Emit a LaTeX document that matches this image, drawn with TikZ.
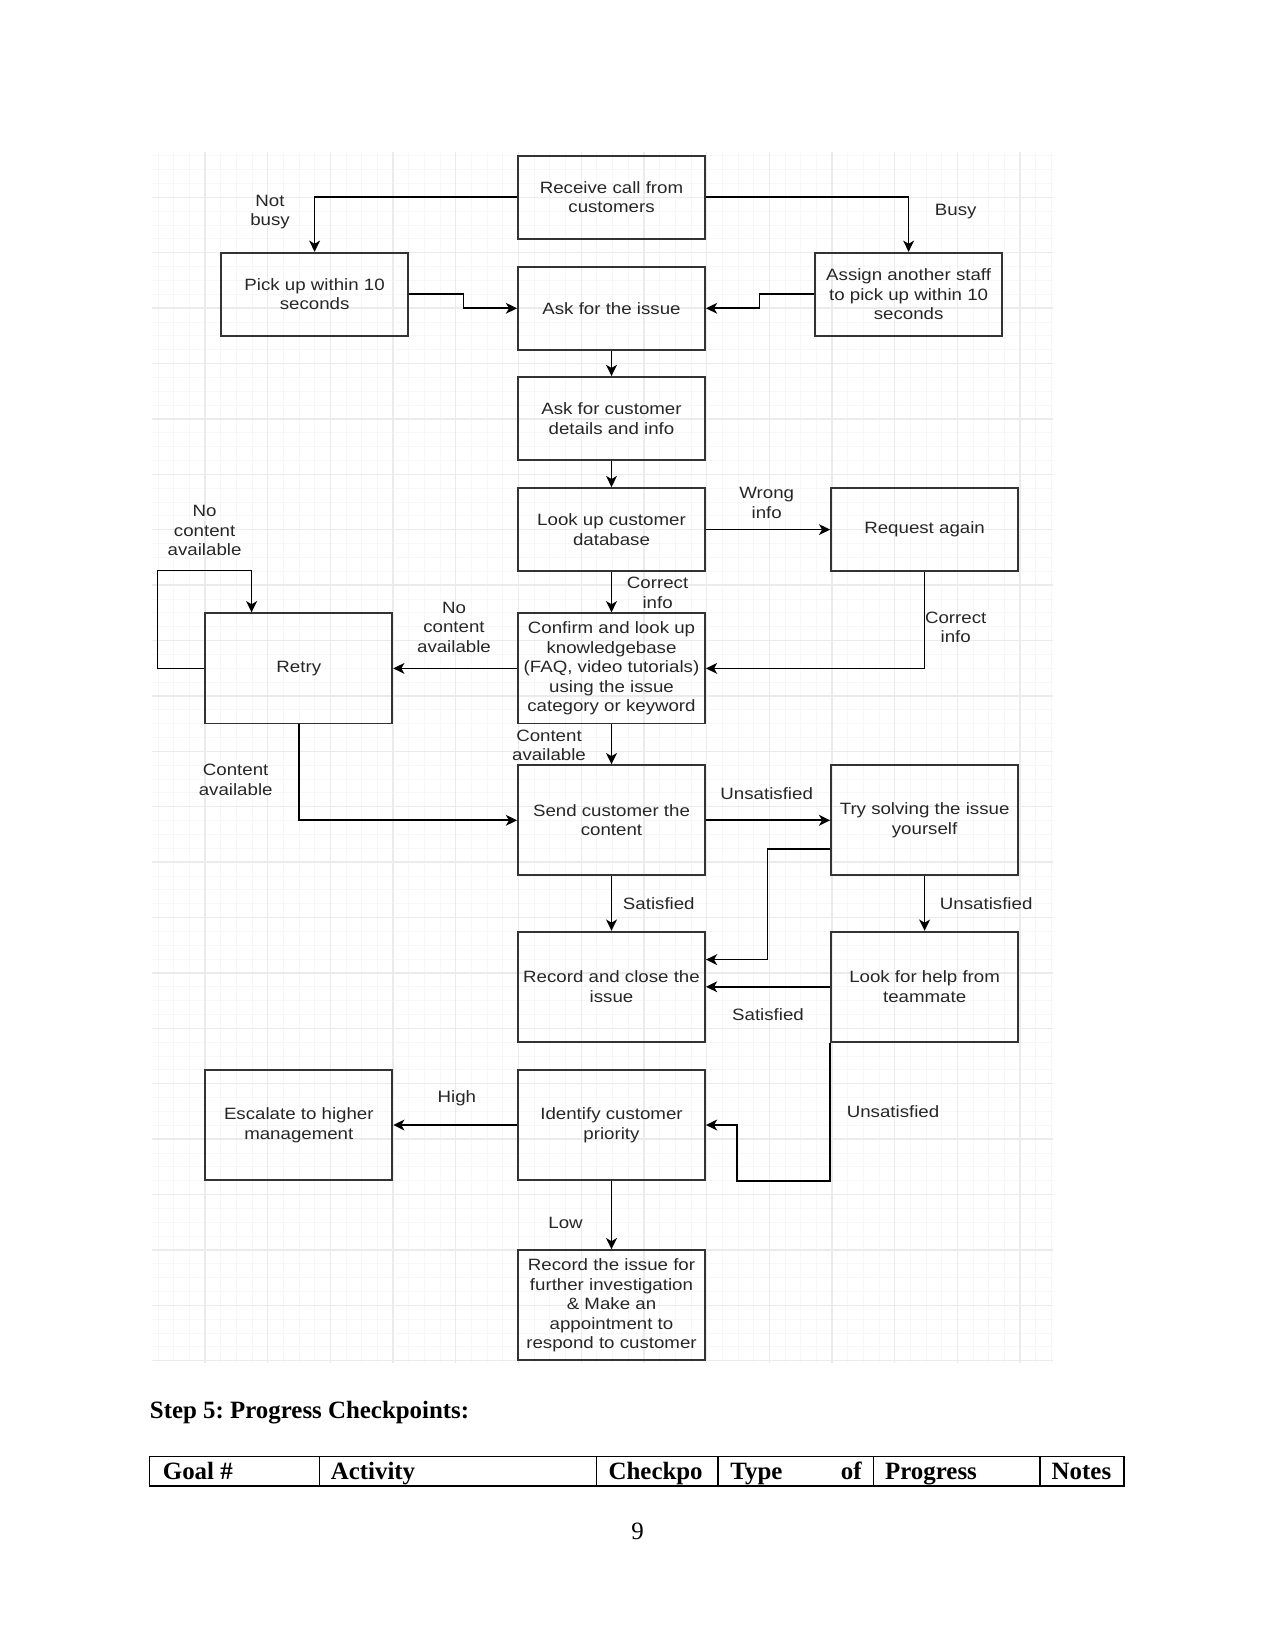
\documentclass[tikz,border=0pt]{standalone}
\usepackage{fontspec}
\setmainfont{Liberation Serif}
\newfontfamily\diofont[FakeStretch=1.14]{Liberation Sans}
\usepackage{xcolor}
\usetikzlibrary{arrows.meta, calc}
\definecolor{boxline}{HTML}{333333}
\definecolor{txtdark}{HTML}{262626}
\definecolor{gridmaj}{HTML}{EBEBEB}
\definecolor{gridmin}{HTML}{F7F7F7}
\frenchspacing

\begin{document}
\begin{tikzpicture}[x=0.016933cm, y=-0.016933cm,
    box/.style={draw=boxline, line width=0.9pt, minimum width=90.1pt, minimum height=40pt,
      inner sep=1pt, align=center, text=txtdark, font=\diofont\fontsize{7.9}{9.4}\selectfont},
    tallbox/.style={box, minimum height=53.1pt},
    lbl/.style={align=center, inner sep=0pt, text=txtdark, font=\diofont\fontsize{7.9}{9.4}\selectfont},
    arr/.style={-{Stealth[length=5.4pt,width=5.2pt,inset=1.5pt]}, line width=0.8pt},
    thead/.style={inner sep=0pt, font=\bfseries\fontsize{12}{14}\selectfont}]
  \useasboundingbox (0,0) rectangle (1275,1651);
  % Raster
  \foreach \k in {-3,...,54}{
    \draw[gridmin, line width=0.4pt] ({205+15.675*\k},152) -- ({205+15.675*\k},1363);
  }
  \foreach \k in {-3,...,84}{
    \draw[gridmin, line width=0.4pt] (152,{197.3+13.85*\k}) -- (1053,{197.3+13.85*\k});
  }
  \foreach \k in {0,...,13}{
    \draw[gridmaj, line width=0.6pt] ({205+62.7*\k},152) -- ({205+62.7*\k},1363);
  }
  \foreach \k in {0,...,21}{
    \draw[gridmaj, line width=0.6pt] (152,{197.3+55.4*\k}) -- (1053,{197.3+55.4*\k});
  }
  % Kaesten
  \node[box] (recv) at (611.5,197.3) {Receive call from\\customers};
  \node[box] (pick) at (314.6,294.3) {Pick up within 10\\seconds};
  \node[box] (assign) at (908.6,294.3) {Assign another staff\\to pick up within 10\\seconds};
  \node[box] (issue) at (611.5,308.3) {Ask for the issue};
  \node[box] (details) at (611.5,418.5) {Ask for customer\\details and info};
  \node[box] (lookup) at (611.5,529.6) {Look up customer\\database};
  \node[box] (request) at (924.6,529.6) {Request again};
  \node[tallbox] (retry) at (298.8,668.4) {Retry};
  \node[tallbox] (confirm) at (611.5,668.4) {Confirm and look up\\knowledgebase\\(FAQ, video tutorials)\\using the issue\\category or keyword};
  \node[tallbox] (send) at (611.5,820.3) {Send customer the\\content};
  \node[tallbox] (trysolve) at (924.6,820.3) {Try solving the issue\\yourself};
  \node[tallbox] (closeit) at (611.5,986.8) {Record and close the\\issue};
  \node[tallbox] (helpmate) at (924.6,986.8) {Look for help from\\teammate};
  \node[tallbox] (escalate) at (298.8,1125) {Escalate to higher\\management};
  \node[tallbox] (priority) at (611.5,1125) {Identify customer\\priority};
  \node[tallbox] (recordissue) at (611.5,1305.3) {Record the issue for\\further investigation\\\& Make an\\appointment to\\respond to customer};
  % Pfeile
  \draw[arr] (recv.west) -| (pick.north);
  \draw[arr] (recv.east) -| (assign.north);
  \draw[arr] (pick.east) -- ++(54.5,0) |- (issue.west);
  \draw[arr] (assign.west) -- ++(-54.7,0) |- (issue.east);
  \draw[arr] (issue.south) -- (details.north);
  \draw[arr] (details.south) -- (lookup.north);
  \draw[arr] (lookup.east) -- (request.west);
  \draw[arr] (lookup.south) -- (confirm.north);
  \draw[arr] (request.south) |- (confirm.east);
  \draw[arr] (confirm.west) -- (retry.east);
  \coordinate (loopin) at ($(retry.north west)!0.25!(retry.north east)$);
  \draw[arr] (retry.west) -- ++(-47,0) |- ($(loopin)+(0,-41.9)$) -- (loopin);
  \draw[arr] (retry.south) |- (send.west);
  \draw[arr] (confirm.south) -- (send.north);
  \draw[arr] (send.east) -- (trysolve.west);
  \draw[arr] ($(trysolve.west)+(0,28.5)$) -- ++(-62.7,0) |- ($(closeit.east)+(0,-27.2)$);
  \draw[arr] (send.south) -- (closeit.north);
  \draw[arr] (trysolve.south) -- (helpmate.north);
  \draw[arr] (helpmate.west) -- (closeit.east);
  \draw[arr] (helpmate.south west) |- ($(priority.south east)+(31,0)$) |- (priority.east);
  \draw[arr] (priority.west) -- (escalate.east);
  \draw[arr] (priority.south) -- (recordissue.north);
  % Beschriftungen
  \node[lbl] (l-notbusy) at (270,212) {Not\\busy};
  \node[lbl] (l-busy) at (955.7,211.7) {Busy};
  \node[lbl] (l-wrong) at (766.7,502.8) {Wrong\\info};
  \node[lbl] (l-correct) at (657.6,592.8) {Correct\\info};
  \node[lbl] (l-correct2) at (955.7,627.2) {Correct\\info};
  \node[lbl] (l-nocont) at (204.6,530.7) {No\\content\\available};
  \node[lbl] (l-nocont2) at (454,627.2) {No\\content\\available};
  \node[lbl] (l-contav) at (549,745.3) {Content\\available};
  \node[lbl] (l-contav2) at (235.7,779.7) {Content\\available};
  \node[lbl] (l-unsat) at (766.7,793.3) {Unsatisfied};
  \node[lbl] (l-sat) at (658.8,904) {Satisfied};
  \node[lbl] (l-unsat2) at (986.2,904) {Unsatisfied};
  \node[lbl] (l-sat2) at (768,1015) {Satisfied};
  \node[lbl] (l-unsat3) at (893,1111.7) {Unsatisfied};
  \node[lbl] (l-high) at (456.9,1098.3) {High};
  \node[lbl] (l-low) at (565.5,1223.3) {Low};
  % Text unter dem Diagramm
  \node[thead, anchor=base west] (steptitle) at (149.5,1418.3) {Step 5: Progress Checkpoints:};
  \draw[line width=0.7pt] (149.5,1456.7) rectangle (1124,1486);
  \foreach \x in {319.3,596.5,718.2,873.7,1040.2}{
    \draw[line width=0.7pt] (\x,1456.7) -- (\x,1486);
  }
  \foreach \x/\t [count=\n] in {162.5/{Goal \#}, 330.4/Activity, 608.2/Checkpo, 729.9/Type, 884.7/Progress, 1051.3/Notes}{
    \node[thead, anchor=base west] (th\n) at (\x,1479.3) {\t};
  }
  \node[thead, anchor=base east] (thof) at (862,1479.3) {of};
  \node[anchor=base, inner sep=0pt, font=\fontsize{12}{14}\selectfont] (pagenum) at (637.5,1539.3) {9};
\end{tikzpicture}
\end{document}
